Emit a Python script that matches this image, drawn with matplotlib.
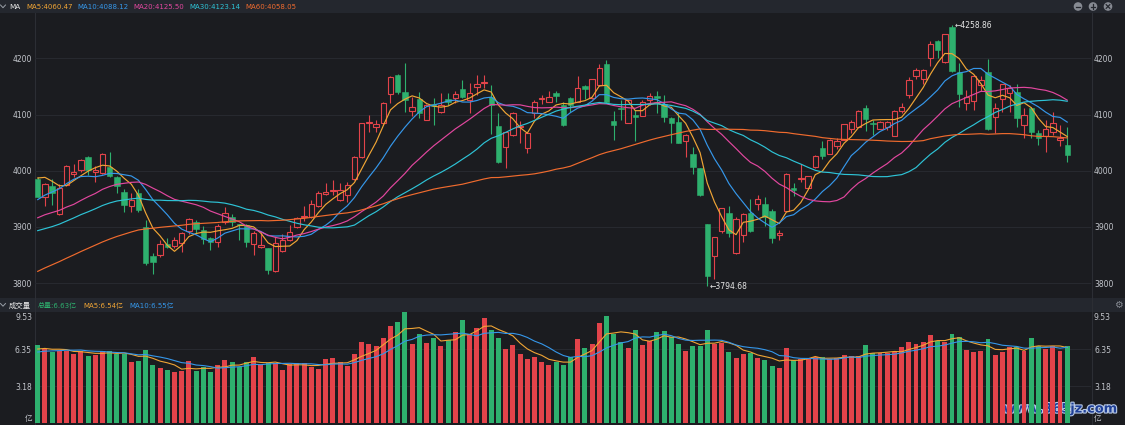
import numpy as np
import pandas as pd
import matplotlib
matplotlib.use("Agg")
import matplotlib.pyplot as plt
from matplotlib.patches import Rectangle, Circle
import matplotlib.patheffects as pe

plt.rcParams['font.family'] = ['DejaVu Sans', 'Noto Sans CJK SC']

# ---------------- data ----------------
opens = [3985, 3954, 3973, 3923, 3975, 3994, 4002, 4025, 3997, 3996,
         4007, 3988, 3963, 3938, 3961, 3899, 3848, 3850, 3869, 3866,
         3872, 3893, 3908, 3894, 3880, 3874, 3908, 3917, 3905, 3903,
         3869, 3865, 3862, 3822, 3857, 3877, 3900, 3917, 3918, 3937,
         3958, 3964, 3948, 3957, 3986, 4025, 4084, 4077, 4085, 4136,
         4170, 4140, 4106, 4127, 4091, 4118, 4104, 4127, 4129, 4145,
         4125, 4149, 4156, 4132, 4080, 4043, 4064, 4078, 4040, 4103,
         4128, 4123, 4138, 4117, 4129, 4123, 4151, 4129, 4153, 4190,
         4089, 4111, 4085, 4099, 4098, 4126, 4133, 4119, 4093, 4087,
         4053, 4030, 4004, 3905, 3849, 3892, 3924, 3853, 3885, 3925,
         3941, 3941, 3929, 3885, 3929, 3969, 3985, 3970, 4006, 4041,
         4030, 4044, 4055, 4075, 4078, 4111, 4084, 4075, 4078, 4062,
         4107, 4135, 4169, 4164, 4201, 4231, 4193, 4256, 4175, 4120,
         4124, 4153, 4175, 4096, 4128, 4138, 4140, 4081, 4112, 4067,
         4062, 4068, 4055, 4046]
highs = [3988, 3979, 3985, 3977, 4010, 4012, 4020, 4027, 4008, 4031,
         4034, 3990, 3967, 3960, 3967, 3912, 3854, 3877, 3880, 3882,
         3891, 3916, 3912, 3902, 3882, 3906, 3936, 3923, 3906, 3906,
         3893, 3889, 3863, 3882, 3887, 3903, 3918, 3938, 3947, 3964,
         3979, 3984, 3979, 3980, 4026, 4085, 4099, 4090, 4122, 4168,
         4172, 4191, 4132, 4140, 4119, 4129, 4138, 4139, 4141, 4161,
         4156, 4170, 4170, 4153, 4102, 4069, 4104, 4089, 4068, 4126,
         4135, 4142, 4141, 4123, 4132, 4168, 4152, 4164, 4190, 4197,
         4106, 4126, 4126, 4108, 4125, 4138, 4142, 4135, 4095, 4105,
         4065, 4042, 4005, 3906, 3882, 3934, 3937, 3918, 3925, 3949,
         3957, 3953, 3932, 3895, 3996, 3979, 4012, 3990, 4028, 4052,
         4056, 4058, 4083, 4090, 4108, 4117, 4091, 4088, 4089, 4108,
         4120, 4167, 4183, 4181, 4230, 4233, 4244, 4258.86, 4191, 4144,
         4170, 4169, 4199, 4120, 4154, 4153, 4154, 4111, 4113, 4072,
         4090, 4105, 4081, 4078]
lows = [3953, 3938, 3939, 3921, 3973, 3989, 3998, 3992, 3980, 3994,
        3988, 3960, 3927, 3927, 3927, 3833, 3817, 3846, 3862, 3862,
        3856, 3887, 3889, 3870, 3859, 3864, 3905, 3902, 3877, 3864,
        3850, 3862, 3817, 3819, 3855, 3875, 3898, 3911, 3916, 3935,
        3956, 3957, 3946, 3945, 3984, 4023, 4069, 4068, 4083, 4120,
        4137, 4105, 4097, 4093, 4090, 4081, 4103, 4117, 4120, 4129,
        4102, 4135, 4148, 4066, 4013, 4004, 4062, 4050, 4031, 4093,
        4119, 4122, 4123, 4079, 4105, 4122, 4127, 4128, 4151, 4120,
        4055, 4090, 4084, 4053, 4097, 4117, 4102, 4087, 4049, 4049,
        4024, 3994, 3955, 3794.68, 3807, 3890, 3882, 3851, 3874, 3891,
        3930, 3902, 3872, 3877, 3928, 3955, 3980, 3969, 4005, 4021,
        4029, 4038, 4054, 4067, 4077, 4071, 4064, 4074, 4073, 4061,
        4103, 4130, 4163, 4155, 4187, 4200, 4192, 4175, 4114, 4108,
        4108, 4141, 4072, 4067, 4105, 4105, 4078, 4058, 4058, 4046,
        4033, 4064, 4044, 4016]
closes = [3954, 3976, 3960, 3970, 4008, 3998, 4019, 4001, 4001, 4030,
          3991, 3972, 3939, 3948, 3930, 3835, 3837, 3870, 3865, 3876,
          3889, 3914, 3897, 3878, 3874, 3902, 3924, 3909, 3904, 3874,
          3889, 3868, 3823, 3871, 3877, 3891, 3916, 3920, 3940, 3961,
          3963, 3966, 3966, 3975, 4025, 4084, 4087, 4083, 4121, 4166,
          4140, 4126, 4113, 4102, 4117, 4116, 4117, 4123, 4136, 4132,
          4139, 4154, 4158, 4117, 4016, 4068, 4103, 4080, 4067, 4123,
          4130, 4132, 4133, 4081, 4117, 4147, 4145, 4163, 4182, 4123,
          4081, 4109, 4125, 4096, 4123, 4133, 4129, 4095, 4084, 4050,
          4064, 4006, 3957, 3813, 3882, 3933, 3889, 3914, 3923, 3892,
          3950, 3918, 3880, 3890, 3995, 3966, 3987, 3990, 4027, 4027,
          4055, 4052, 4083, 4086, 4107, 4092, 4083, 4086, 4087, 4107,
          4113, 4161, 4180, 4180, 4225, 4215, 4243, 4178, 4136, 4132,
          4169, 4161, 4075, 4112, 4154, 4147, 4093, 4099, 4068, 4058,
          4075, 4084, 4059, 4028]
volumes = [6.73, 6.36, 6.15, 6.21, 6.21, 5.95, 6.24, 5.78, 5.87, 6.21,
           6.21, 5.95, 5.95, 5.29, 5.35, 6.30, 5.01, 4.75, 4.58, 4.43,
           4.49, 5.35, 4.52, 4.81, 4.43, 5.01, 5.44, 5.27, 4.86, 5.27,
           5.72, 5.01, 5.15, 5.15, 4.58, 5.09, 5.15, 5.15, 4.81, 4.66,
           5.52, 5.61, 5.29, 4.92, 5.95, 7.01, 6.81, 6.64, 7.30, 8.38,
           8.73, 9.53, 6.79, 7.65, 6.90, 7.36, 6.64, 7.13, 7.84, 8.87,
           7.65, 8.22, 9.05, 8.02, 7.33, 6.41, 6.73, 5.95, 5.55, 5.70,
           5.27, 5.01, 5.29, 5.01, 5.70, 7.27, 6.47, 6.81, 8.62, 9.22,
           7.65, 6.96, 6.47, 8.02, 6.73, 7.07, 7.84, 7.93, 7.41, 6.81,
           6.21, 6.67, 6.67, 8.02, 6.84, 6.90, 6.13, 5.61, 5.95, 6.04,
           5.62, 5.44, 4.92, 4.75, 6.47, 5.44, 5.52, 5.55, 5.70, 5.70,
           5.50, 5.58, 5.87, 5.75, 5.81, 6.70, 6.01, 6.01, 6.01, 6.13,
           6.55, 7.01, 6.84, 6.98, 7.59, 7.10, 7.01, 7.65, 7.39, 6.27,
           6.15, 6.21, 7.24, 5.87, 6.15, 6.53, 6.53, 6.24, 7.30, 6.67,
           6.38, 6.64, 6.21, 6.64]
# closes / volumes before the first visible bar (needed for the moving averages)
history_closes = [3610, 3622, 3635, 3641, 3650, 3655, 3662, 3670, 3678, 3685,
                  3693, 3700, 3708, 3715, 3724, 3760, 3778, 3790, 3805, 3812,
                  3820, 3828, 3835, 3841, 3846, 3850, 3855, 3858, 3862, 3866,
                  3870, 3852, 3838, 3845, 3830, 3842, 3850, 3838, 3855, 3856,
                  3868, 3880, 3895, 3890, 3902, 3878, 3870, 3885, 3882, 3890,
                  3895, 3905, 3912, 3918, 3920, 3970, 3995, 4010, 4006]
history_volumes = [5.6, 5.9, 6.0, 5.8, 6.0, 6.1, 6.5, 6.2, 6.37]

ma_periods = [5, 10, 20, 30, 60]
ma_colors = ['#f0a535', '#3597ea', '#e2479f', '#2ec3d6', '#f06b2e']
ma_labels = ['MA5:4060.47', 'MA10:4088.12', 'MA20:4125.50', 'MA30:4123.14', 'MA60:4058.05']
vol_labels = ['总量:6.63亿', 'MA5:6.54亿', 'MA10:6.55亿']
price_ticks = [3800, 3900, 4000, 4100, 4200]
vol_ticks = [3.18, 6.35]
high_note = '←4258.86'
low_note = '←3794.68'

# ---------------- style ----------------
BG = '#1b1c20'
BAR = '#24272e'
GRID = '#27292f'
SEP = '#2c2e34'
TXT = '#c3c6cc'
RED = '#e2434a'
GREEN = '#2eb06e'

W, H = 1125, 425
fig = plt.figure(figsize=(W / 100, H / 100), dpi=100)
fig.patch.set_facecolor(BG)

def px_axes(x0, y0, x1, y1):
    return fig.add_axes([x0 / W, 1 - y1 / H, (x1 - x0) / W, (y1 - y0) / H])

n = len(closes)
xs = np.arange(n)
up = np.array(closes) >= np.array(opens)

all_c = pd.Series(history_closes + closes, dtype=float)
all_v = pd.Series(history_volumes + volumes, dtype=float)
hc = len(history_closes)
hv = len(history_volumes)

# overlay for chrome (bars, separators)
over = fig.add_axes([0, 0, 1, 1], zorder=0)
over.set_xlim(0, W)
over.set_ylim(H, 0)
over.axis('off')
over.add_patch(Rectangle((0, 0), W, 13, color=BAR, lw=0))
over.add_patch(Rectangle((0, 298), W, 14, color=BAR, lw=0))

XL = (-0.375, 146.3)

# ---------------- price panel ----------------
ax = px_axes(35, 13, 1091, 297)
ax.set_facecolor('none')
ax.set_xlim(*XL)
ax.set_ylim(3775.3, 4280.6)
for s in ax.spines.values():
    s.set_visible(False)
ax.set_xticks([])
ax.set_yticks(price_ticks)
ax.set_yticklabels([str(t) for t in price_ticks])
ax.tick_params(axis='y', length=0, pad=2.2, labelsize=5.5, labelcolor=TXT,
               labelleft=True, labelright=True)
ax.grid(axis='y', color=GRID, lw=0.8)
ax.set_axisbelow(True)

bw = 0.74
for i in range(n):
    o, h, l, c = opens[i], highs[i], lows[i], closes[i]
    top, bot = max(o, c), min(o, c)
    hgt = max(top - bot, 0.9)
    if up[i]:
        col = RED
        ax.vlines(i, top, h, color=col, lw=0.8, zorder=2)
        ax.vlines(i, l, bot, color=col, lw=0.8, zorder=2)
        ax.add_patch(Rectangle((i - bw / 2, bot), bw, hgt, facecolor=BG,
                               edgecolor=col, lw=0.8, zorder=2))
    else:
        col = GREEN
        ax.vlines(i, l, h, color=col, lw=0.8, zorder=2)
        ax.add_patch(Rectangle((i - bw / 2, bot), bw, hgt, facecolor=col,
                               edgecolor=col, lw=0.4, zorder=2))

for p, col in zip(ma_periods, ma_colors):
    ma = all_c.rolling(p).mean().to_numpy()[hc:]
    ax.plot(xs, ma, color=col, lw=0.85, zorder=3)

ih = int(np.argmax(highs))
il = int(np.argmin(lows))
ax.text(ih + 0.3, highs[ih], high_note, color='#e6e6e6', fontsize=5.5,
        va='center', ha='left', zorder=5)
ax.text(il + 0.3, lows[il], low_note, color='#e6e6e6', fontsize=5.5,
        va='center', ha='left', zorder=5)

# ---------------- volume panel ----------------
vx = px_axes(35, 312, 1091, 425)
vx.set_facecolor('none')
vx.set_xlim(*XL)
vx.set_ylim(-0.146, 9.56)
for s in vx.spines.values():
    s.set_visible(False)
vx.set_xticks([])
vx.set_yticks(vol_ticks)
vx.set_yticklabels(['%.2f' % t for t in vol_ticks])
vx.tick_params(axis='y', length=0, pad=2.2, labelsize=5.5, labelcolor=TXT,
               labelleft=True, labelright=True)
vx.grid(axis='y', color=GRID, lw=0.8)
vx.set_axisbelow(True)
vcols = [RED if u else GREEN for u in up]
vx.bar(xs, volumes, width=0.68, color=vcols, zorder=2)
vx.plot(xs, all_v.rolling(5).mean().to_numpy()[hv:], color='#f0a535', lw=0.8, zorder=3)
vx.plot(xs, all_v.rolling(10).mean().to_numpy()[hv:], color='#3597ea', lw=0.8, zorder=3)

for xpos, ha in ((32, 'right'), (1094, 'left')):
    over.text(xpos, 317, '9.53', color=TXT, fontsize=5.5, ha=ha, va='center')
    over.text(xpos, 419, '亿', color=TXT, fontsize=5.5, ha=ha, va='center')

over.plot([34.5, 34.5], [13, H], color=SEP, lw=0.8)
over.plot([1091.5, 1091.5], [13, H], color=SEP, lw=0.8)

# ---------------- header texts ----------------
def chevron(x, y):
    over.plot([x, x + 2.5, x + 5], [y - 1.5, y + 1.2, y - 1.5], color='#9aa0a8', lw=0.7)

chevron(0.5, 6.5)
over.text(9.3, 6.8, 'MA', color='#e8e8e8', fontsize=5.2, va='center', ha='left')
ma_x = [26, 77.7, 133, 189.7, 245]
for lx, lab, col in zip(ma_x, ma_labels, ma_colors):
    over.text(lx, 6.8, lab, color=col, fontsize=5.0, va='center', ha='left')

chevron(0.5, 305)
over.text(9, 305.2, '成交量', color='#e8e8e8', fontsize=5.3, va='center', ha='left')
vl_x = [37.7, 83, 129.7]
vl_c = ['#2eb06e', '#f0a535', '#3597ea']
for lx, lab, col in zip(vl_x, vol_labels, vl_c):
    over.text(lx, 305.2, lab, color=col, fontsize=5.0, va='center', ha='left')

for cx, sym in ((1078, '-'), (1093, '+'), (1108, 'x')):
    over.add_patch(Circle((cx, 6.5), 4.3, color='#868a92', lw=0))
    if sym == '-':
        over.plot([cx - 2.2, cx + 2.2], [6.5, 6.5], color=BAR, lw=0.9)
    elif sym == '+':
        over.plot([cx - 2.2, cx + 2.2], [6.5, 6.5], color=BAR, lw=0.9)
        over.plot([cx, cx], [4.3, 8.7], color=BAR, lw=0.9)
    else:
        over.plot([cx - 1.8, cx + 1.8], [4.7, 8.3], color=BAR, lw=0.9)
        over.plot([cx - 1.8, cx + 1.8], [8.3, 4.7], color=BAR, lw=0.9)
over.text(1118, 305, '⚙', color='#868a92', fontsize=7, ha='center', va='center')

# watermark
over.text(1060, 409, 'www.365jz.com', color='#1f3f96', fontsize=9.3, fontweight='bold',
          ha='center', va='center', zorder=10,
          path_effects=[pe.withStroke(linewidth=1.6, foreground='#b8c9e6')])

fig.savefig('out.png', dpi=100, facecolor=BG)
